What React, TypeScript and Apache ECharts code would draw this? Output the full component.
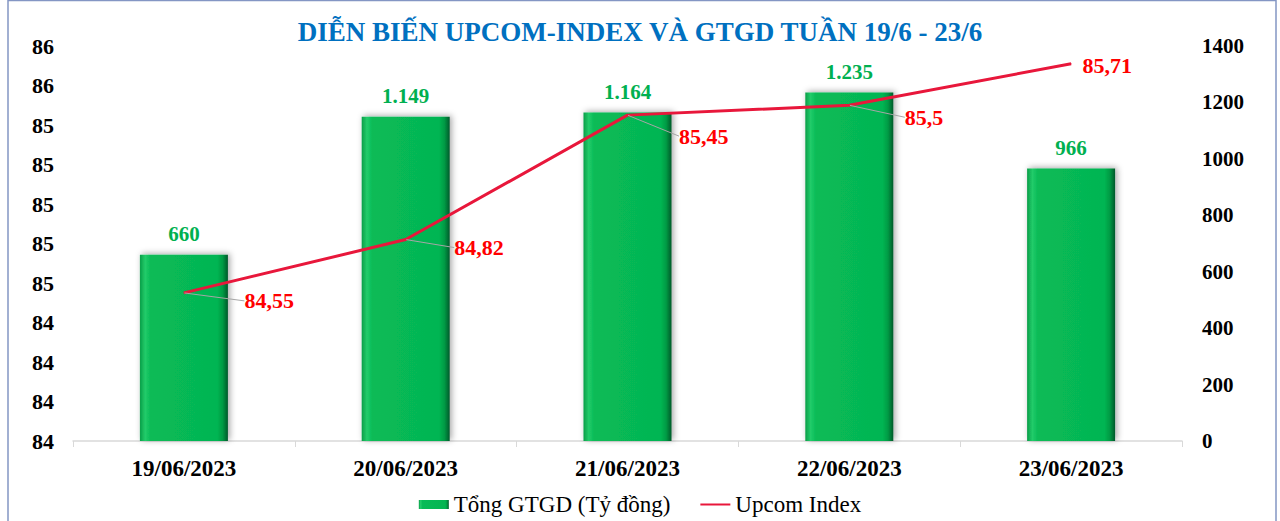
import React, { useEffect, useRef } from "react";
import * as echarts from "echarts";

const categories = ["19/06/2023", "20/06/2023", "21/06/2023", "22/06/2023", "23/06/2023"];
const gtgd = [660, 1149, 1164, 1235, 966];
const upcom = [84.55, 84.82, 85.45, 85.5, 85.71];
// where each index label sits relative to its point
const labelDx = [55, 43, 46, 50, 0];
const labelDy = [8, 8, 21, 12, 2];

const SERIF = "'Liberation Serif', 'DejaVu Serif', serif";

const fmtThousands = (v: number) => String(v).replace(/\B(?=(\d{3})+(?!\d))/g, ".");

const App = () => {
  const chartRef = useRef<HTMLDivElement>(null);

  useEffect(() => {
    const chart = echarts.init(chartRef.current, null, { renderer: "svg" });
    chart.setOption({
      animation: false,
      backgroundColor: "#fff",
      textStyle: { fontFamily: SERIF },
      title: {
        text: "DIỄN BIẾN UPCOM-INDEX VÀ GTGD TUẦN 19/6 - 23/6",
        left: "center",
        top: 13,
        textStyle: { fontFamily: SERIF, fontSize: 27, fontWeight: "bold", color: "#0070C0" },
      },
      legend: {
        bottom: 0,
        left: "center",
        itemGap: 30,
        itemWidth: 30,
        itemHeight: 9,
        textStyle: { fontFamily: SERIF, fontSize: 23, color: "#000" },
        data: [
          { name: "Tổng GTGD (Tỷ đồng)", icon: "rect" },
          { name: "Upcom Index", icon: "path://M0,4 L30,4 L30,6 L0,6 Z", itemStyle: { color: "#E8173B" } },
        ],
      },
      grid: { left: 73, right: 98, top: 46, bottom: 80 },
      xAxis: {
        type: "category",
        data: categories,
        axisLine: { lineStyle: { color: "#D9D9D9", width: 1.5 } },
        axisTick: { show: true, length: 6, lineStyle: { color: "#D9D9D9" } },
        axisLabel: { margin: 16, fontFamily: SERIF, fontSize: 23, fontWeight: "bold", color: "#000" },
      },
      yAxis: [
        {
          type: "value",
          min: 83.8,
          max: 85.8,
          interval: 0.2,
          splitLine: { show: false },
          axisLine: { show: false },
          axisTick: { show: false },
          axisLabel: {
            margin: 19,
            fontFamily: SERIF,
            fontSize: 22,
            fontWeight: "bold",
            color: "#000",
            formatter: (v: number) => String(Math.round(v)),
          },
        },
        {
          type: "value",
          min: 0,
          max: 1400,
          interval: 200,
          splitLine: { show: false },
          axisLine: { show: false },
          axisTick: { show: false },
          axisLabel: {
            margin: 20,
            fontFamily: SERIF,
            fontSize: 21,
            fontWeight: "bold",
            color: "#000",
            formatter: (v: number) => String(v),
          },
        },
      ],
      series: [
        {
          name: "Tổng GTGD (Tỷ đồng)",
          type: "bar",
          yAxisIndex: 1,
          barWidth: 88,
          data: gtgd,
          itemStyle: {
            color: new echarts.graphic.LinearGradient(0, 0, 1, 0, [
              { offset: 0, color: "#0A9E48" },
              { offset: 0.06, color: "#22CC6A" },
              { offset: 0.12, color: "#08BB57" },
              { offset: 0.88, color: "#05B552" },
              { offset: 0.94, color: "#039A44" },
              { offset: 1, color: "#02592A" },
            ]),
            shadowColor: "rgba(0,0,0,0.35)",
            shadowBlur: 6,
            shadowOffsetX: 2,
            shadowOffsetY: -1,
          },
          label: {
            show: true,
            position: "top",
            distance: 10,
            fontFamily: SERIF,
            fontSize: 21,
            fontWeight: "bold",
            color: "#00B050",
            formatter: (p: any) => fmtThousands(p.value),
          },
        },
        {
          name: "Upcom Index",
          type: "line",
          yAxisIndex: 0,
          data: upcom.map((v, i) =>
            i === upcom.length - 1
              ? { value: v, label: { distance: 11 }, labelLine: { show: false } }
              : v
          ),
          symbol: "circle",
          symbolSize: 1,
          showSymbol: true,
          lineStyle: { color: "#E8173B", width: 3 },
          itemStyle: { color: "#E8173B" },
          label: {
            show: true,
            position: "right",
            distance: 5,
            fontFamily: SERIF,
            fontSize: 22,
            fontWeight: "bold",
            color: "#FF0000",
            formatter: (p: any) => String(p.value).replace(".", ","),
          },
          labelLine: { show: true, lineStyle: { color: "#A6A6A6", width: 1 } },
          labelLayout: (p: any) => ({ dx: labelDx[p.dataIndex], dy: labelDy[p.dataIndex] }),
        },
      ],
      graphic: [
        {
          type: "rect",
          shape: { x: 8, y: 0.5, width: 1268, height: 540 },
          style: { fill: "none", stroke: "#8496C4", lineWidth: 1.5 },
          silent: true,
          z: 100,
        },
      ],
    });

    return () => {
      chart.dispose();
    };
  }, []);

  return (
    <div
      ref={chartRef}
      style={{ position: "absolute", left: 0, top: 0, width: "1280px", height: "521px" }}
    ></div>
  );
};

export default App;
